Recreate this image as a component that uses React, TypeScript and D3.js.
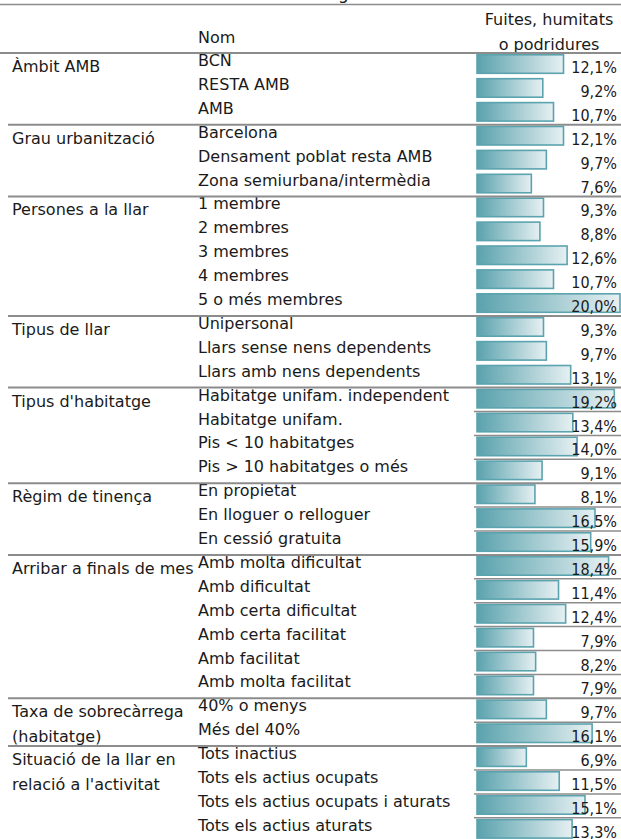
import React from 'react';
import * as d3 from 'd3';

const groupLabels = [
  ['Àmbit AMB'],
  ['Grau urbanització'],
  ['Persones a la llar'],
  ['Tipus de llar'],
  ["Tipus d'habitatge"],
  ['Règim de tinença'],
  ['Arribar a finals de mes'],
  ['Taxa de sobrecàrrega', '(habitatge)'],
  ['Situació de la llar en', "relació a l'activitat"],
];

const categoryNames = [
  ['BCN', 'RESTA AMB', 'AMB'],
  ['Barcelona', 'Densament poblat resta AMB', 'Zona semiurbana/intermèdia'],
  ['1 membre', '2 membres', '3 membres', '4 membres', '5 o més membres'],
  ['Unipersonal', 'Llars sense nens dependents', 'Llars amb nens dependents'],
  ['Habitatge unifam. independent', 'Habitatge unifam.', 'Pis < 10 habitatges', 'Pis > 10 habitatges o més'],
  ['En propietat', 'En lloguer o relloguer', 'En cessió gratuita'],
  ['Amb molta dificultat', 'Amb dificultat', 'Amb certa dificultat', 'Amb certa facilitat', 'Amb facilitat', 'Amb molta facilitat'],
  ['40% o menys', 'Més del 40%'],
  ['Tots inactius', 'Tots els actius ocupats', 'Tots els actius ocupats i aturats', 'Tots els actius aturats'],
];

const values = [
  [12.1, 9.2, 10.7],
  [12.1, 9.7, 7.6],
  [9.3, 8.8, 12.6, 10.7, 20.0],
  [9.3, 9.7, 13.1],
  [19.2, 13.4, 14.0, 9.1],
  [8.1, 16.5, 15.9],
  [18.4, 11.4, 12.4, 7.9, 8.2, 7.9],
  [9.7, 16.1],
  [6.9, 11.5, 15.1, 13.3],
];

const headerName = 'Nom';
const headerValue = ['Fuites, humitats', 'o podridures'];

const width = 621;
const height = 839;
const font = '"DejaVu Sans", sans-serif';
const numFont = '"DejaVu Sans Condensed", "DejaVu Sans", sans-serif';
const textColor = '#1a1a1a';
const lineColor = '#8c8c8c';
const teal = '#5ba3ae';

const fmt = (v: number) => v.toFixed(1).replace('.', ',') + '%';

export default function App() {
  const rows: { g: number; i: number; name: string; value: number; key: string }[] = [];
  categoryNames.forEach((names, g) =>
    names.forEach((name, i) => rows.push({ g, i, name, value: values[g][i], key: `${g}-${i}` }))
  );

  const rowH = 23.9;
  const top = 53;
  const y = d3.scaleBand<string>()
    .domain(rows.map(r => r.key))
    .range([top, top + rows.length * rowH]);

  const x = d3.scaleLinear().domain([0, 20]).range([477, 620]);

  const groupTop = (g: number) => y(`${g}-0`) as number;

  return (
    <svg width={width} height={height} style={{ position: 'absolute', left: 0, top: 0 }} fontFamily={font}>
      <defs>
        <linearGradient id="barGrad" x1="0" x2="1" y1="0" y2="0">
          <stop offset="0%" stopColor="#5aa2ad" />
          <stop offset="100%" stopColor="#e6f0f2" />
        </linearGradient>
      </defs>
      <rect width={width} height={height} fill="#fff" />

      {/* clipped title above */}
      <text x={338} y={-1} fontSize={17} fill={textColor}>g</text>
      <line x1={0} x2={width} y1={4.5} y2={4.5} stroke={lineColor} strokeWidth={1.5} />

      <text x={198} y={43} fontSize={16} fill={textColor}>{headerName}</text>
      {headerValue.map((t, k) => (
        <text key={t} x={549} y={25 + k * 25} fontSize={16} fill={textColor} textAnchor="middle">{t}</text>
      ))}
      <line x1={0} x2={width} y1={top} y2={top} stroke={lineColor} strokeWidth={2} />

      {rows.map(r => {
        const ry = y(r.key) as number;
        return (
          <g key={r.key}>
            <rect
              x={x(0)}
              y={ry + 1.8}
              width={x(r.value) - x(0)}
              height={18.5}
              fill="url(#barGrad)"
              stroke={teal}
              strokeWidth={1.6}
            />
            <text x={198} y={ry + 13} fontSize={16} fill={textColor}>{r.name}</text>
            <text x={617} y={ry + 20} fontSize={16} fontFamily={numFont} fill={textColor} textAnchor="end">{fmt(r.value)}</text>
            {r.i > 0 && r.g >= 4 && (
              <line x1={474} x2={width} y1={ry} y2={ry} stroke={lineColor} strokeWidth={1.5} />
            )}
          </g>
        );
      })}

      {groupLabels.map((lines, g) => (
        <g key={g}>
          {g > 0 && (
            <line x1={8} x2={width} y1={groupTop(g)} y2={groupTop(g)} stroke={lineColor} strokeWidth={2} />
          )}
          {lines.map((t, k) => (
            <text key={t} x={12} y={groupTop(g) + 19 + k * 25} fontSize={16} fill={textColor}>{t}</text>
          ))}
        </g>
      ))}
    </svg>
  );
}
